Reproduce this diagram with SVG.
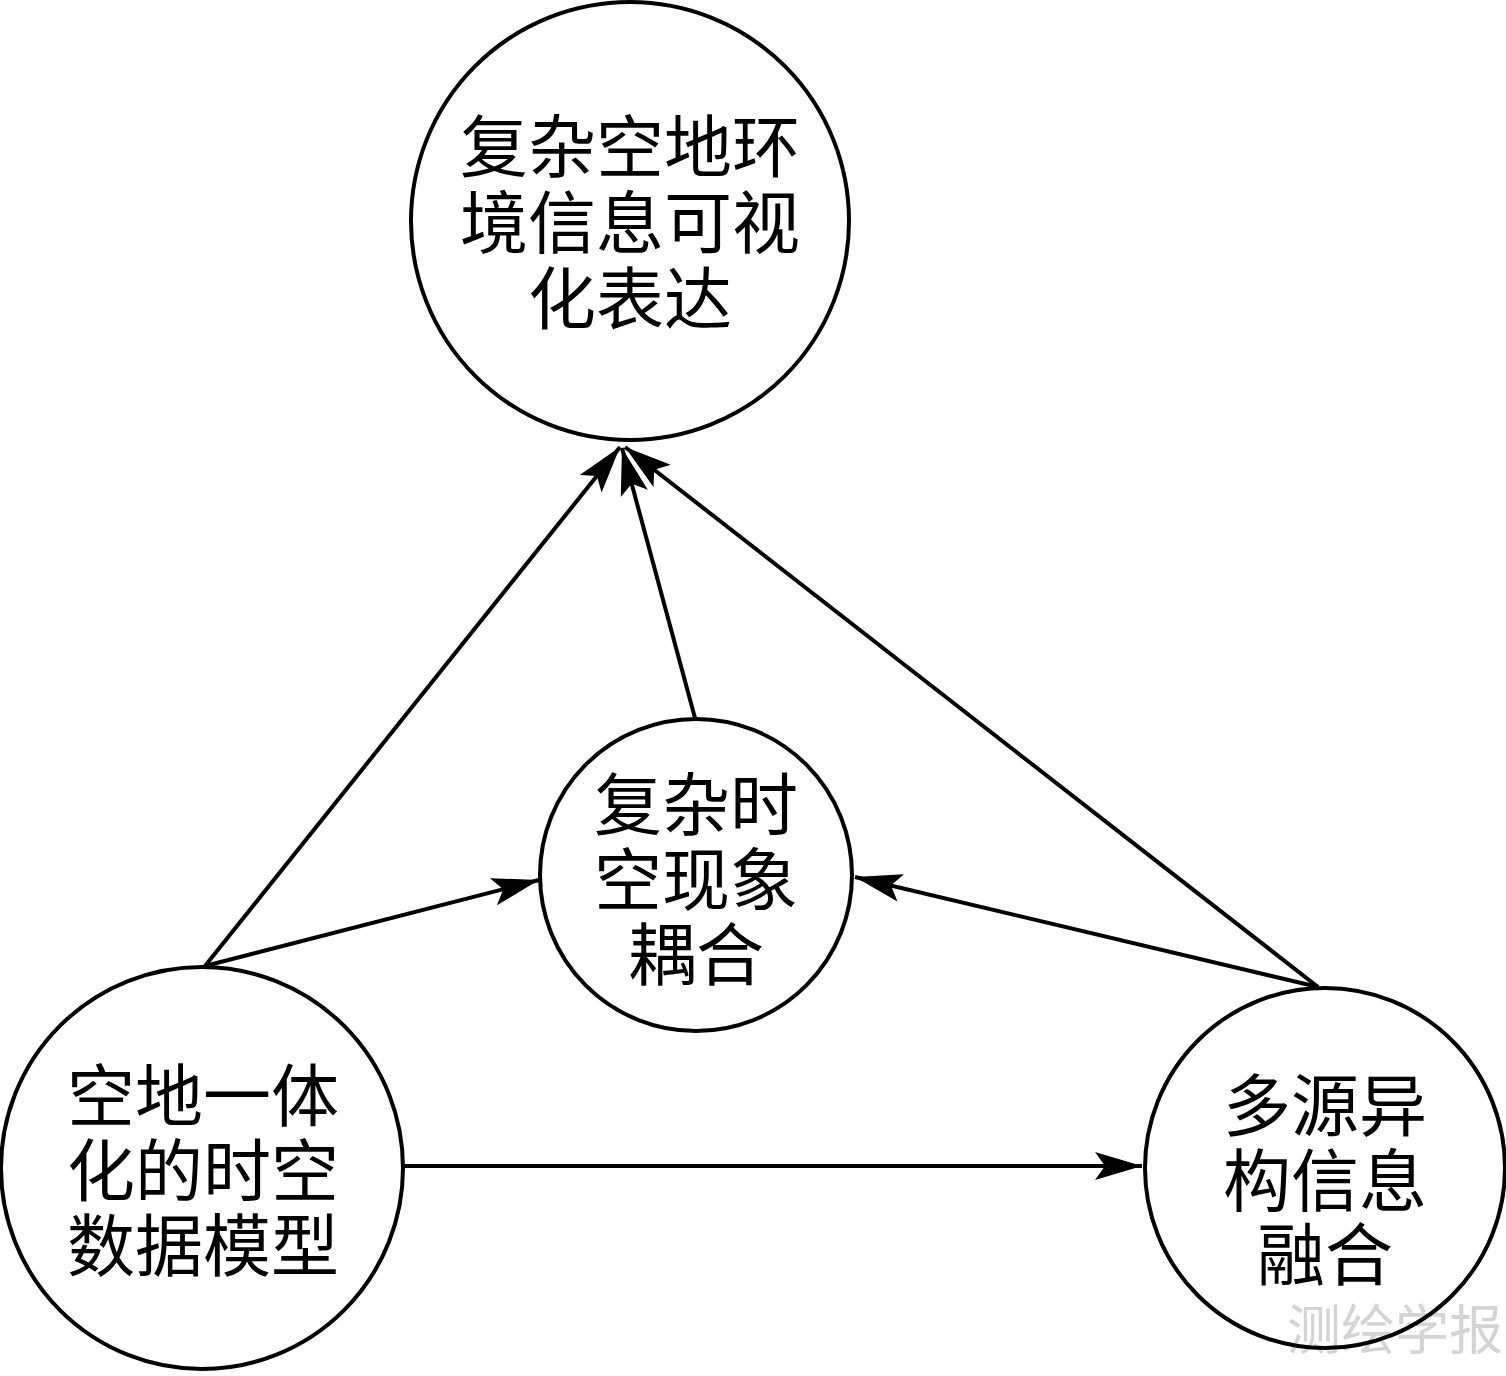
<svg xmlns="http://www.w3.org/2000/svg" width="1506" height="1376" viewBox="0 0 1506 1376">
<style>
.node{fill:none;stroke:#000;stroke-width:4}
.t{font-family:"Liberation Serif","Noto Sans CJK SC",serif;font-size:68px;fill:#000;text-anchor:middle}
.c{fill:none;stroke:#000;stroke-width:4;marker-end:url(#ah)}
.wm{font-family:"Noto Sans CJK SC",sans-serif;font-size:54px;fill:#d4d4d4}
</style>
<defs>
<marker id="ah" markerUnits="userSpaceOnUse" markerWidth="60" markerHeight="40" viewBox="-50 -20 60 40" refX="0" refY="0" orient="auto">
<path d="M0,0 L-47,-14 L-37,0 L-47,14 Z" fill="#000"/>
</marker>
</defs>
<rect width="1506" height="1376" fill="#fff"/>
<text class="wm" x="1287" y="1350">测绘学报</text>
<g id="connectors">
<line class="c" x1="205" y1="966" x2="620" y2="447"/>
<line class="c" x1="695" y1="718" x2="622" y2="448"/>
<line class="c" x1="1318" y1="987" x2="625" y2="447"/>
<line class="c" x1="205" y1="966" x2="539" y2="880"/>
<line class="c" x1="1318" y1="987" x2="855" y2="877"/>
<line class="c" x1="404" y1="1166" x2="1142" y2="1166"/>
</g>
<g id="node-top">
<circle class="node" cx="630" cy="221" r="219"/>
<text class="t" x="630" y="172">复杂空地环</text>
<text class="t" x="630" y="248">境信息可视</text>
<text class="t" x="630" y="324">化表达</text>
</g>
<g id="node-mid">
<circle class="node" cx="696" cy="875" r="156"/>
<text class="t" x="696" y="830">复杂时</text>
<text class="t" x="696" y="905">空现象</text>
<text class="t" x="696" y="980">耦合</text>
</g>
<g id="node-left">
<circle class="node" cx="202" cy="1168" r="201"/>
<text class="t" x="203" y="1121">空地一体</text>
<text class="t" x="203" y="1196">化的时空</text>
<text class="t" x="203" y="1271">数据模型</text>
</g>
<g id="node-right">
<circle class="node" cx="1325" cy="1168" r="180"/>
<text class="t" x="1325" y="1131">多源异</text>
<text class="t" x="1325" y="1206">构信息</text>
<text class="t" x="1325" y="1280">融合</text>
</g>
</svg>
